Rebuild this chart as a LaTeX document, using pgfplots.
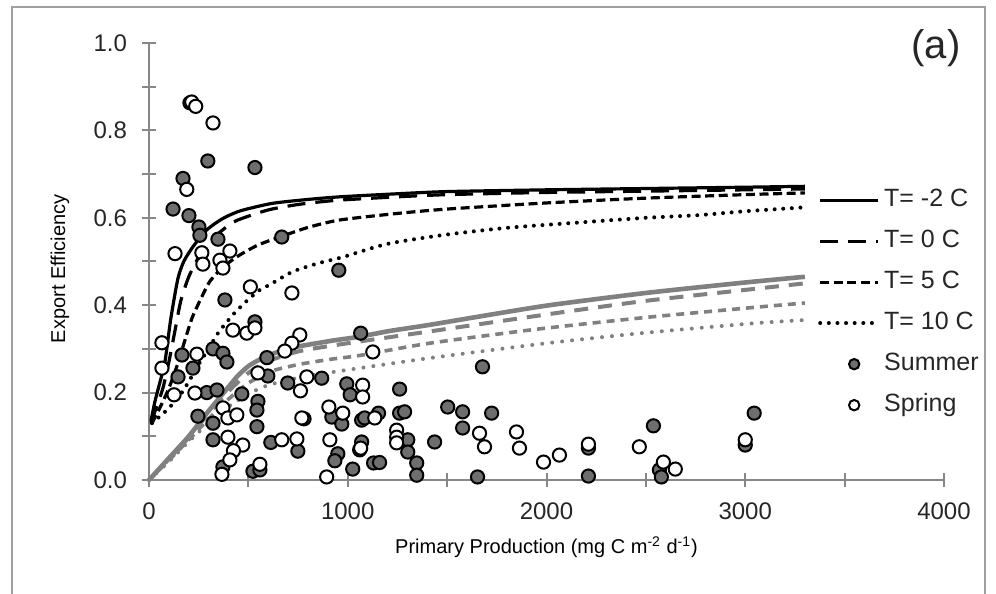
\documentclass[border=0pt]{standalone}
\usepackage{pgfplots}
\pgfplotsset{compat=1.18}
\usepackage{fontspec}
\setmainfont{Liberation Sans}
\definecolor{axgray}{RGB}{135,135,135}
\definecolor{sumfill}{RGB}{110,110,110}
\definecolor{curvegray}{RGB}{128,128,128}
\definecolor{framegray}{RGB}{160,160,160}
\pgfplotsset{
  lineleg/.style={legend image code/.code={\draw[##1] (0pt,0pt) -- (29pt,0pt);}},
  markleg/.style={legend image code/.code={\draw[##1, mark size=2.6pt] plot coordinates {(17pt,0pt)};}},
}
\begin{document}
\begin{tikzpicture}
\path[use as bounding box] (-74.5pt,-57pt) rectangle (423.5pt,240pt);
\draw[framegray, line width=1pt] (-68.5pt,-60pt) -- (-68.5pt,236.5pt) -- (418pt,236.5pt) -- (418pt,-60pt);
\begin{axis}[
  scale only axis, width=397.5pt, height=218.5pt,
  xmin=0, xmax=4000, ymin=0, ymax=1,
  axis x line=bottom, axis y line=left,
  axis line style={axgray, line width=1.4pt, -},
  xtick={0,1000,2000,3000,4000}, minor xtick={500,1500,2500,3500},
  ytick={0,0.2,0.4,0.6,0.8,1.0}, minor ytick={0.1,0.3,0.5,0.7,0.9},
  tick align=center, major tick length=7pt, minor tick length=7pt,
  every tick/.style={axgray, line width=1pt},
  /pgf/number format/assume math mode=true,
  /pgf/number format/1000 sep={},
  yticklabel style={/pgf/number format/fixed, /pgf/number format/precision=1, /pgf/number format/fixed zerofill, xshift=-4pt},
  xticklabel style={yshift=-4.5pt},
  tick label style={font=\fontsize{12}{14}\selectfont, text=black!85},
  label style={font=\fontsize{12.6}{15}\selectfont, text=black!85},
  xlabel={Primary Production (mg C m\textsuperscript{-2} d\textsuperscript{-1})},
  ylabel={Export Efficiency},
  every axis x label/.style={at={(axis description cs:0.5,-0.1533)}, anchor=center},
  every axis y label/.style={at={(axis description cs:-0.112,0.483)}, anchor=center, rotate=90},
  clip=false,
  legend style={at={(axis cs:3365,0.668)}, anchor=north west, draw=none, fill=none, inner sep=0pt,
    font=\fontsize{12.5}{15}\selectfont, row sep=8.8pt, column sep=0pt,
    nodes={inner ysep=0pt, text height=9pt, text depth=2.7pt, text=black!85}},
  legend cell align=left,
  lineleg,
]
% black curves (legend)
\addplot[black, line width=1.6pt, smooth, tension=0.4] coordinates {(10,0.135)(30,0.18)(50,0.215)(80,0.27)(110,0.37)(145,0.46)(175,0.5)(220,0.533)(290,0.572)(370,0.598)(460,0.616)(620,0.633)(800,0.642)(960,0.648)(1250,0.655)(1500,0.66)(2000,0.664)(2500,0.667)(3000,0.67)(3300,0.672)};
\addlegendentry{T= -2 C}
\addplot[black, line width=1.6pt, dash pattern=on 9pt off 5pt, smooth, tension=0.4] coordinates {(10,0.13)(40,0.17)(70,0.21)(100,0.27)(130,0.34)(160,0.41)(200,0.465)(250,0.51)(300,0.543)(370,0.572)(442,0.594)(600,0.618)(759,0.631)(945,0.64)(1250,0.648)(1500,0.653)(2000,0.658)(2500,0.661)(3000,0.664)(3300,0.666)};
\addlegendentry{T= 0 C}
\addplot[black, line width=1.6pt, dash pattern=on 4.5pt off 2.3pt, smooth, tension=0.4] coordinates {(15,0.13)(60,0.17)(100,0.21)(140,0.26)(181,0.32)(216,0.37)(256,0.41)(307,0.455)(380,0.49)(457,0.515)(550,0.538)(658,0.556)(800,0.578)(960,0.595)(1250,0.61)(1500,0.62)(2000,0.634)(2500,0.645)(3000,0.653)(3300,0.657)};
\addlegendentry{T= 5 C}
\addplot[black, line width=2pt, line cap=round, dash pattern=on 0.01pt off 4.3pt, smooth, tension=0.4] coordinates {(15,0.13)(90,0.16)(150,0.19)(200,0.225)(250,0.265)(300,0.3)(347,0.336)(422,0.378)(492,0.41)(558,0.435)(608,0.447)(724,0.477)(860,0.497)(975,0.51)(1196,0.54)(1487,0.561)(1800,0.577)(2126,0.588)(2500,0.6)(2764,0.606)(3000,0.615)(3300,0.624)};
\addlegendentry{T= 10 C}
% grey curves
\addplot[curvegray, line width=2.3pt, smooth, tension=0.4, forget plot] coordinates {(0,0)(100,0.05)(200,0.1)(300,0.158)(400,0.213)(450,0.24)(508,0.263)(600,0.285)(724,0.303)(910,0.318)(1060,0.328)(1211,0.341)(1412,0.355)(1700,0.377)(2015,0.4)(2500,0.428)(3000,0.452)(3300,0.465)};
\addplot[curvegray, line width=2pt, dash pattern=on 7pt off 5pt, smooth, tension=0.4, forget plot] coordinates {(0,0)(100,0.048)(200,0.097)(300,0.152)(400,0.203)(500,0.245)(600,0.272)(759,0.295)(1000,0.313)(1412,0.34)(2065,0.383)(2500,0.41)(3000,0.435)(3300,0.45)};
\addplot[curvegray, line width=1.8pt, dash pattern=on 4pt off 3pt, smooth, tension=0.4, forget plot] coordinates {(0,0)(100,0.045)(200,0.092)(300,0.14)(400,0.185)(500,0.222)(623,0.25)(760,0.265)(910,0.276)(1060,0.285)(1412,0.313)(1950,0.345)(2500,0.372)(3070,0.396)(3300,0.405)};
\addplot[curvegray, line width=2pt, line cap=round, dash pattern=on 0.01pt off 5pt, smooth, tension=0.4, forget plot] coordinates {(0,0)(100,0.042)(200,0.088)(300,0.13)(400,0.168)(500,0.197)(600,0.217)(760,0.235)(925,0.247)(1060,0.256)(1412,0.279)(2000,0.313)(2500,0.337)(3055,0.359)(3300,0.366)};
% Summer
\addplot[only marks, mark=*, mark size=3.3pt, mark options={fill=sumfill, draw=black, line width=1pt}, markleg] coordinates {
(206,0.863)(296,0.73)(533,0.715)(171,0.69)(121,0.62)(201,0.605)(251,0.579)(256,0.56)(347,0.551)(668,0.556)
(955,0.48)(382,0.412)(533,0.362)(1065,0.336)(166,0.286)(322,0.3)(372,0.29)(392,0.27)(593,0.28)(221,0.256)
(146,0.236)(598,0.238)(698,0.222)(869,0.233)(291,0.2)(342,0.206)(467,0.197)(548,0.18)(543,0.16)(246,0.146)
(322,0.13)(322,0.092)(543,0.122)(613,0.086)(749,0.066)(372,0.03)(523,0.02)(558,0.023)(780,0.14)(920,0.144)
(970,0.128)(1070,0.137)(995,0.22)(1012,0.195)(950,0.06)(935,0.044)(1025,0.025)(1060,0.069)(1261,0.208)(1085,0.142)
(1155,0.153)(1261,0.153)(1286,0.156)(1302,0.092)(1302,0.064)(1347,0.039)(1347,0.011)(1437,0.087)(1070,0.087)(1130,0.039)
(1160,0.04)(1503,0.167)(1578,0.156)(1578,0.119)(1724,0.153)(1678,0.259)(1653,0.007)(2211,0.073)(2211,0.009)(2538,0.124)
(2568,0.023)(2578,0.007)(3000,0.08)(3045,0.153)};
\addlegendentry{Summer}
% Spring
\addplot[only marks, mark=*, mark size=3.3pt, mark options={fill=white, draw=black, line width=1pt}, markleg] coordinates {
(215,0.865)(235,0.855)(322,0.817)(190,0.665)(131,0.518)(266,0.52)(407,0.524)(357,0.503)(271,0.494)(372,0.485)
(510,0.442)(719,0.428)(422,0.343)(492,0.336)(533,0.348)(65,0.314)(759,0.332)(719,0.313)(683,0.295)(1126,0.293)
(241,0.288)(65,0.256)(548,0.245)(794,0.236)(762,0.204)(126,0.195)(231,0.199)(1075,0.217)(1075,0.19)(372,0.165)
(397,0.142)(442,0.149)(769,0.142)(905,0.167)(975,0.153)(1136,0.142)(397,0.098)(472,0.08)(425,0.067)(407,0.046)
(367,0.013)(558,0.036)(668,0.092)(744,0.094)(894,0.007)(910,0.092)(1065,0.073)(1246,0.114)(1246,0.098)(1246,0.085)
(1663,0.107)(1688,0.076)(1849,0.11)(1864,0.073)(1985,0.041)(2065,0.057)(2211,0.082)(2467,0.076)(2588,0.041)(2648,0.025)
(3000,0.092)};
\addlegendentry{Spring}
\node[font=\fontsize{20}{22}\selectfont, text=black!85] at (axis cs:3960,0.988) {(a)};
\end{axis}
\end{tikzpicture}
\end{document}
